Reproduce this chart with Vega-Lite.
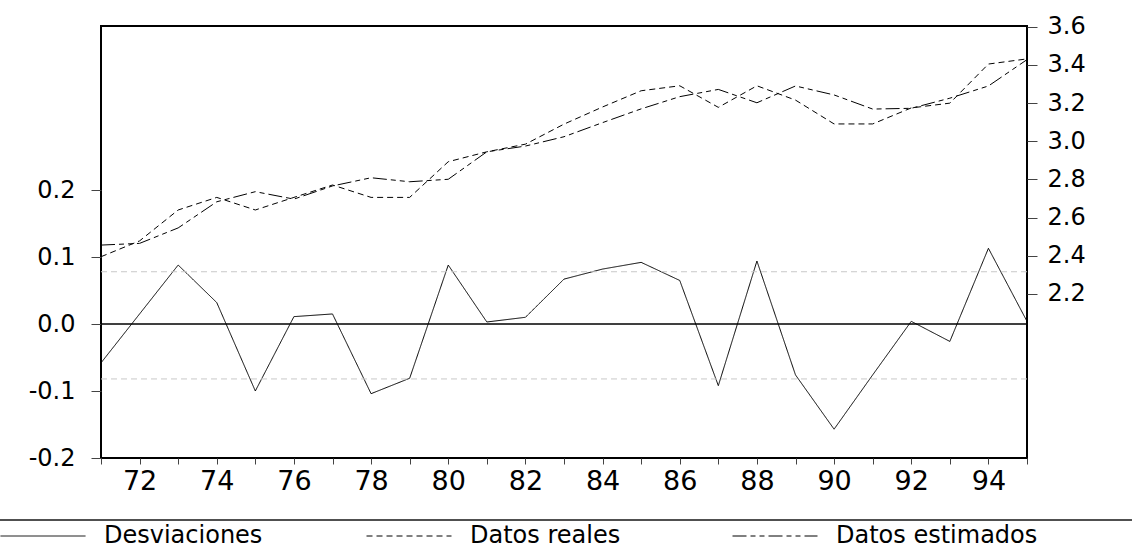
{
  "$schema": "https://vega.github.io/schema/vega-lite/v6.json",
  "width": 926,
  "height": 432,
  "autosize": {"type": "none"},
  "padding": {"left": 101, "top": 26, "right": 105, "bottom": 92},
  "background": "white",
  "config": {
    "view": {"stroke": "black", "strokeWidth": 2},
    "axis": {"labelFont": "DejaVu Sans", "labelColor": "black", "domain": false, "grid": false, "tickColor": "#444", "tickWidth": 1, "title": null},
    "axisX": {
      "values": [1971, 1972, 1973, 1974, 1975, 1976, 1977, 1978, 1979, 1980, 1981, 1982, 1983, 1984, 1985, 1986, 1987, 1988, 1989, 1990, 1991, 1992, 1993, 1994, 1995],
      "labelExpr": "datum.value % 2 == 0 ? slice(toString(datum.value), 2) : ''",
      "labelFontSize": 27, "tickSize": 6, "labelPadding": 4, "labelFlush": false, "labelOverlap": false
    },
    "legend": {
      "orient": "none", "legendX": -101, "legendY": 467, "direction": "horizontal",
      "symbolType": "stroke", "symbolSize": 7225, "symbolStrokeWidth": 1, "symbolStrokeColor": "black",
      "labelFont": "DejaVu Sans", "labelFontSize": 24, "labelColor": "black", "labelOffset": 18,
      "labelLimit": 400, "columnPadding": 58, "gridAlign": "all", "padding": 0, "title": null
    }
  },
  "datasets": {
    "desv": [
      {"year": 1971, "serie": "Desviaciones", "value": -0.058},
      {"year": 1972, "serie": "Desviaciones", "value": 0.015},
      {"year": 1973, "serie": "Desviaciones", "value": 0.088},
      {"year": 1974, "serie": "Desviaciones", "value": 0.032},
      {"year": 1975, "serie": "Desviaciones", "value": -0.100},
      {"year": 1976, "serie": "Desviaciones", "value": 0.011},
      {"year": 1977, "serie": "Desviaciones", "value": 0.015},
      {"year": 1978, "serie": "Desviaciones", "value": -0.104},
      {"year": 1979, "serie": "Desviaciones", "value": -0.081},
      {"year": 1980, "serie": "Desviaciones", "value": 0.088},
      {"year": 1981, "serie": "Desviaciones", "value": 0.003},
      {"year": 1982, "serie": "Desviaciones", "value": 0.010},
      {"year": 1983, "serie": "Desviaciones", "value": 0.067},
      {"year": 1984, "serie": "Desviaciones", "value": 0.082},
      {"year": 1985, "serie": "Desviaciones", "value": 0.092},
      {"year": 1986, "serie": "Desviaciones", "value": 0.065},
      {"year": 1987, "serie": "Desviaciones", "value": -0.092},
      {"year": 1988, "serie": "Desviaciones", "value": 0.094},
      {"year": 1989, "serie": "Desviaciones", "value": -0.076},
      {"year": 1990, "serie": "Desviaciones", "value": -0.157},
      {"year": 1991, "serie": "Desviaciones", "value": -0.076},
      {"year": 1992, "serie": "Desviaciones", "value": 0.004},
      {"year": 1993, "serie": "Desviaciones", "value": -0.026},
      {"year": 1994, "serie": "Desviaciones", "value": 0.113},
      {"year": 1995, "serie": "Desviaciones", "value": 0.004}
    ],
    "datos": [
      {"year": 1971, "serie": "Datos reales", "value": 2.395},
      {"year": 1972, "serie": "Datos reales", "value": 2.478},
      {"year": 1973, "serie": "Datos reales", "value": 2.640},
      {"year": 1974, "serie": "Datos reales", "value": 2.706},
      {"year": 1975, "serie": "Datos reales", "value": 2.640},
      {"year": 1976, "serie": "Datos reales", "value": 2.706},
      {"year": 1977, "serie": "Datos reales", "value": 2.771},
      {"year": 1978, "serie": "Datos reales", "value": 2.706},
      {"year": 1979, "serie": "Datos reales", "value": 2.706},
      {"year": 1980, "serie": "Datos reales", "value": 2.893},
      {"year": 1981, "serie": "Datos reales", "value": 2.945},
      {"year": 1982, "serie": "Datos reales", "value": 2.985},
      {"year": 1983, "serie": "Datos reales", "value": 3.090},
      {"year": 1984, "serie": "Datos reales", "value": 3.180},
      {"year": 1985, "serie": "Datos reales", "value": 3.265},
      {"year": 1986, "serie": "Datos reales", "value": 3.291},
      {"year": 1987, "serie": "Datos reales", "value": 3.178},
      {"year": 1988, "serie": "Datos reales", "value": 3.291},
      {"year": 1989, "serie": "Datos reales", "value": 3.216},
      {"year": 1990, "serie": "Datos reales", "value": 3.091},
      {"year": 1991, "serie": "Datos reales", "value": 3.091},
      {"year": 1992, "serie": "Datos reales", "value": 3.175},
      {"year": 1993, "serie": "Datos reales", "value": 3.200},
      {"year": 1994, "serie": "Datos reales", "value": 3.405},
      {"year": 1995, "serie": "Datos reales", "value": 3.432},
      {"year": 1971, "serie": "Datos estimados", "value": 2.456},
      {"year": 1972, "serie": "Datos estimados", "value": 2.465},
      {"year": 1973, "serie": "Datos estimados", "value": 2.546},
      {"year": 1974, "serie": "Datos estimados", "value": 2.683},
      {"year": 1975, "serie": "Datos estimados", "value": 2.736},
      {"year": 1976, "serie": "Datos estimados", "value": 2.697},
      {"year": 1977, "serie": "Datos estimados", "value": 2.766},
      {"year": 1978, "serie": "Datos estimados", "value": 2.809},
      {"year": 1979, "serie": "Datos estimados", "value": 2.788},
      {"year": 1980, "serie": "Datos estimados", "value": 2.801},
      {"year": 1981, "serie": "Datos estimados", "value": 2.945},
      {"year": 1982, "serie": "Datos estimados", "value": 2.975},
      {"year": 1983, "serie": "Datos estimados", "value": 3.024},
      {"year": 1984, "serie": "Datos estimados", "value": 3.098},
      {"year": 1985, "serie": "Datos estimados", "value": 3.170},
      {"year": 1986, "serie": "Datos estimados", "value": 3.234},
      {"year": 1987, "serie": "Datos estimados", "value": 3.272},
      {"year": 1988, "serie": "Datos estimados", "value": 3.202},
      {"year": 1989, "serie": "Datos estimados", "value": 3.290},
      {"year": 1990, "serie": "Datos estimados", "value": 3.243},
      {"year": 1991, "serie": "Datos estimados", "value": 3.169},
      {"year": 1992, "serie": "Datos estimados", "value": 3.173},
      {"year": 1993, "serie": "Datos estimados", "value": 3.226},
      {"year": 1994, "serie": "Datos estimados", "value": 3.290},
      {"year": 1995, "serie": "Datos estimados", "value": 3.428}
    ],
    "bandas": [
      {"se": 0.078},
      {"se": -0.082}
    ]
  },
  "layer": [
    {
      "data": {"name": "desv"},
      "mark": {"type": "line", "stroke": "black", "strokeWidth": 1},
      "encoding": {
        "x": {
          "field": "year", "type": "quantitative",
          "scale": {"domain": [1971, 1995], "nice": false, "zero": false}
        },
        "y": {
          "field": "value", "type": "quantitative",
          "scale": {"domain": [-0.2, 0.4448], "nice": false, "zero": false},
          "axis": {"orient": "left", "values": [-0.2, -0.1, 0, 0.1, 0.2], "labelExpr": "replace(format(datum.value, '.1f'), '\u2212', '-')", "labelFontSize": 24, "tickSize": 10, "labelPadding": 16, "labelDy": -3}
        },
        "strokeDash": {
          "field": "serie", "type": "nominal",
          "scale": {"domain": ["Desviaciones", "Datos reales", "Datos estimados"], "range": [[1, 0], [6, 4], [14, 4, 5, 4, 5, 4]]},
          "legend": {}
        }
      }
    },
    {
      "data": {"name": "bandas"},
      "mark": {"type": "rule", "stroke": "#c8c8c8", "strokeWidth": 1, "strokeDash": [6, 4]},
      "encoding": {
        "y": {"field": "se", "type": "quantitative", "scale": {"domain": [-0.2, 0.4448], "nice": false, "zero": false}, "axis": null}
      }
    },
    {
      "data": {"name": "bandas"},
      "mark": {"type": "rule", "stroke": "black", "strokeWidth": 1},
      "encoding": {
        "y": {"datum": 0, "type": "quantitative", "scale": {"domain": [-0.2, 0.4448], "nice": false, "zero": false}, "axis": null}
      }
    },
    {
      "data": {"name": "bandas"},
      "mark": {"type": "rule", "stroke": "#444", "strokeWidth": 1.5, "clip": false},
      "encoding": {
        "x": {"datum": 1968.38, "type": "quantitative"},
        "x2": {"datum": 1997.72},
        "y": {"datum": -0.2925, "type": "quantitative", "scale": {"domain": [-0.2, 0.4448], "nice": false, "zero": false}, "axis": null}
      }
    },
    {
      "data": {"name": "datos"},
      "mark": {"type": "line", "stroke": "black", "strokeWidth": 1},
      "encoding": {
        "x": {"field": "year", "type": "quantitative"},
        "y": {
          "field": "value", "type": "quantitative",
          "scale": {"domain": [1.34, 3.6044], "nice": false, "zero": false},
          "axis": {"orient": "right", "values": [2.2, 2.4, 2.6, 2.8, 3.0, 3.2, 3.4, 3.6], "format": ".1f", "labelFontSize": 24, "tickSize": 10, "labelPadding": 10, "labelDy": -3}
        },
        "strokeDash": {"field": "serie", "type": "nominal"}
      }
    }
  ],
  "resolve": {"scale": {"y": "independent"}}
}
